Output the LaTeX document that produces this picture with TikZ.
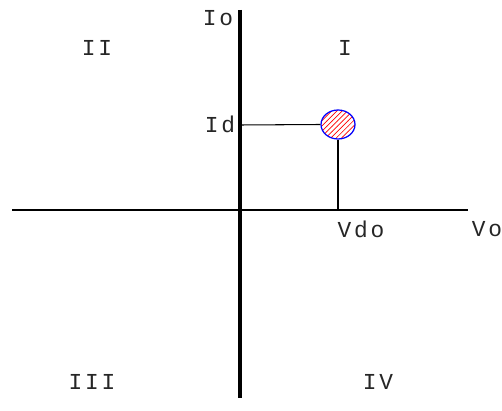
\documentclass[tikz,border=0pt]{standalone}
\usepackage{fontspec}
\setmainfont{Liberation Mono}[LetterSpace=12]
\usetikzlibrary{positioning,patterns,shapes.geometric}
\tikzset{
  axis/.style={draw=black, line width=0.9pt},
  yaxis/.style={draw=black, line width=1.8pt},
  guide/.style={draw=black, line width=0.6pt},
  lbl/.style={inner sep=1pt, font=\fontsize{13}{13}\selectfont, text=black!85},
  qpoint/.style={ellipse, draw=blue, line width=0.7pt, minimum width=0.68cm,
                 minimum height=0.58cm, inner sep=0pt,
                 pattern=north east lines, pattern color=red},
}
\begin{document}
\begin{tikzpicture}[x=0.02cm, y=-0.02cm]
  \useasboundingbox (0,0) rectangle (502,411);
  % axes
  \coordinate (xl) at (12,210);
  \coordinate (xr) at (468,210);
  \coordinate (yt) at (240,10);
  \coordinate (yb) at (240,398);
  \draw[axis] (xl) -- (xr);
  \draw[yaxis] (yt) -- (yb);
  % operating point
  \node[qpoint] (q) at (338,124.5) {};
  \coordinate (idy) at (240,125);
  \coordinate (vdx) at (q.south |- xr);
  \draw[guide] (idy) -- (q.west);
  \draw[guide] (q.south) -- (vdx);
  % labels
  \node[lbl] (io)  at (218,18)  {Io};
  \node[lbl] (vo)  at (487,229) {Vo};
  \node[lbl] (id)  at (220,124) {Id};
  \node[lbl] (vdo) at (361,229) {Vdo};
  \node[lbl] (q1)  at (345,48)  {I};
  \node[lbl] (q2)  at (97,48)   {II};
  \node[lbl] (q3)  at (92,382)  {III};
  \node[lbl] (q4)  at (378,382) {IV};
\end{tikzpicture}
\end{document}
